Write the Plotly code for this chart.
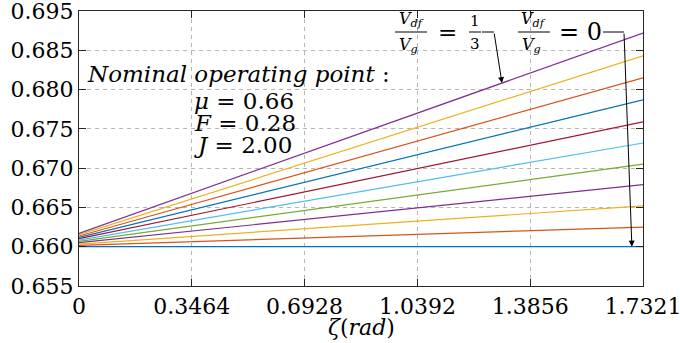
import numpy as np
import plotly.graph_objects as go

# Angle sweep (rad) and the resulting curves for V_df/V_g = 0 ... 1/3
zeta = [0.0, 1.7321]
ratio_labels = ["0", "1/30", "2/30", "3/30", "4/30", "5/30",
                "6/30", "7/30", "8/30", "9/30", "1/3"]
start_vals = [0.6600, 0.66017, 0.66034, 0.66051, 0.66068, 0.66085,
              0.66102, 0.66119, 0.66136, 0.66153, 0.66170]
end_vals = [0.6600, 0.6625, 0.6652, 0.6679, 0.6705, 0.6732,
            0.6759, 0.6787, 0.6815, 0.6843, 0.6872]

x_ticks = [0, 0.3464, 0.6928, 1.0392, 1.3856, 1.7321]
x_ticktext = ["0", "0.3464", "0.6928", "1.0392", "1.3856", "1.7321"]
y_ticks = [0.655, 0.660, 0.665, 0.670, 0.675, 0.680, 0.685, 0.690]
y_ticktext = ["0.655", "0.660", "0.665", "0.670", "0.675", "0.680", "0.685", "0.695"]

colors = ["#0072BD", "#D95319", "#EDB120", "#7E2F8E", "#77AC30",
          "#4DBEEE", "#A2142F"]

SERIF = "DejaVu Serif"
AXC = "#262626"
FS = 22      # tick labels
FT = 23      # free text

fig = go.Figure()
for i, lab in enumerate(ratio_labels):
    fig.add_trace(go.Scatter(
        x=zeta, y=[start_vals[i], end_vals[i]], mode="lines",
        line=dict(color=colors[i % len(colors)], width=1.2),
        name=lab, showlegend=False, hoverinfo="skip"))

XMAX, YMIN, YMAX = 1.7321, 0.655, 0.690

def to_x(p):
    return p * XMAX

def to_y(p):
    return YMIN + p * (YMAX - YMIN)

ann = []
shapes = []

def text(x, y, s, size, xanchor="center", yanchor="middle"):
    ann.append(dict(x=x, y=y, xref="paper", yref="paper", text=s,
                    showarrow=False, xanchor=xanchor, yanchor=yanchor,
                    borderpad=0,
                    font=dict(family=SERIF, size=size, color="black")))

def hline(x0, x1, y, w=1):
    shapes.append(dict(type="line", xref="paper", yref="paper",
                       x0=x0, x1=x1, y0=y, y1=y,
                       line=dict(color="black", width=w)))

# Nominal operating point block
text(0.0124, 0.771, "<i>Nominal operating point</i> :", FT, xanchor="left")
text(0.2021, 0.6727, "<i>μ</i> = 0.66", FT, xanchor="left")
text(0.2021, 0.5927, "<i>F</i> = 0.28", FT, xanchor="left")
text(0.2021, 0.5127, "<i>J</i> = 2.00", FT, xanchor="left")

# V_df/V_g = 1/3
bar_y = 0.9236
text(0.5887, 0.9290, "<i>V</i><sub><i>df</i></sub>", 16, yanchor="bottom")
hline(0.5603, 0.6170, bar_y)
text(0.5850, 0.9160, "<i>V</i><sub><i>g</i></sub>", 16, yanchor="top")
text(0.6525, bar_y, "=", FT)
text(0.7021, 0.9290, "1", 15, yanchor="bottom")
hline(0.6915, 0.7128, bar_y)
text(0.7021, 0.9160, "3", 15, yanchor="top")
hline(0.7145, 0.7358, bar_y)

# V_df/V_g = 0
text(0.8067, 0.9290, "<i>V</i><sub><i>df</i></sub>", 16, yanchor="bottom")
hline(0.7784, 0.8351, bar_y)
text(0.8030, 0.9160, "<i>V</i><sub><i>g</i></sub>", 16, yanchor="top")
text(0.9291, bar_y, "= 0", 24, xanchor="right")
hline(0.9291, 0.9663, bar_y)

# Arrows pointing at the top and bottom curves
tip1_x = 1.299
tip1_y = float(np.interp(tip1_x, zeta, [start_vals[-1], end_vals[-1]]))
tip2_x = 1.698
tip2_y = float(np.interp(tip2_x, zeta, [start_vals[0], end_vals[0]]))
for tx, ty, px in [(tip1_x, tip1_y, 0.7358), (tip2_x, tip2_y, 0.9663)]:
    ann.append(dict(x=tx, y=ty, xref="x", yref="y",
                    ax=to_x(px), ay=to_y(bar_y), axref="x", ayref="y",
                    text="", showarrow=True, arrowhead=2, arrowsize=1.2,
                    arrowwidth=1, arrowcolor="black", standoff=0))

# Axis title
text(0.5, -0.150, "<i>ζ</i>(<i>rad</i>)", FS)

fig.update_layout(
    width=680, height=343,
    margin=dict(l=79, r=37, t=11, b=57, autoexpand=False),
    paper_bgcolor="white", plot_bgcolor="white",
    annotations=ann, shapes=shapes,
    font=dict(family=SERIF, size=FS, color="black"),
)
axis_style = dict(
    showgrid=True, gridcolor="#b5b5b5", griddash="4px,4px", gridwidth=1,
    zeroline=False, showline=True, linecolor=AXC, linewidth=1.3,
    mirror="ticks", ticks="inside", ticklen=7, tickcolor=AXC,
    ticklabeloverflow="allow", automargin=False,
    tickfont=dict(family=SERIF, size=FS, color="black"),
)
fig.update_xaxes(range=[0, XMAX], tickvals=x_ticks, ticktext=x_ticktext,
                 **axis_style)
fig.update_yaxes(range=[YMIN, YMAX + 1e-7], tickvals=y_ticks,
                 ticktext=y_ticktext, **axis_style)

fig.write_html("out.html")
